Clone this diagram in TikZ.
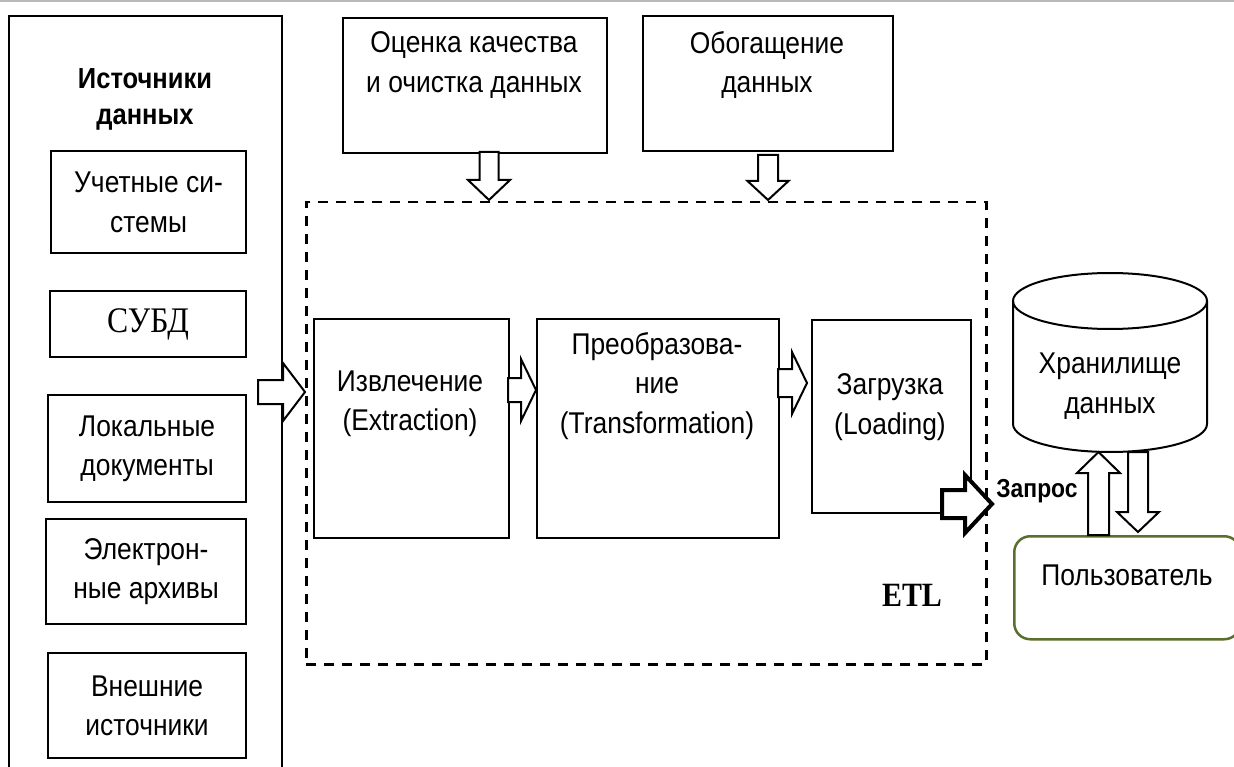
\documentclass[tikz,border=0pt]{standalone}
\usepackage{fontspec}
\setmainfont{Liberation Sans}[FakeStretch=0.88]
\newfontfamily\tnr{Liberation Serif}[FakeStretch=0.88]
\usetikzlibrary{calc}
\definecolor{usrgreen}{HTML}{5A6E2E}
% block arrow: [options]{start}{tip}{half body}{half head}{head length}
\newcommand\blkarrow[6][]{%
  \coordinate (bA) at #2; \coordinate (bB) at #3;
  \coordinate (bC) at ($(bB)!#6!(bA)$);
  \draw[blk,#1] ($(bA)!#4!90:(bB)$) -- ($(bC)!#4!-90:(bA)$) -- ($(bC)!#5!-90:(bA)$)
     -- (bB) -- ($(bC)!#5!90:(bA)$) -- ($(bC)!#4!90:(bA)$) -- ($(bA)!#4!-90:(bB)$) -- cycle;}
\begin{document}
\begin{tikzpicture}[x=1pt,y=1pt,
  box/.style={draw, line width=2.2pt, inner sep=0pt, anchor=north west},
  txt/.style={align=center, font=\fontsize{30pt}{39.5pt}\selectfont, inner sep=0pt},
  blk/.style={draw, line width=2pt, fill=white, line join=miter}]
\useasboundingbox (0,0) rectangle (1234,-767);
\clip (0,0) rectangle (1234,-767);
\draw[gray!55, line width=1.5pt] (0,-1) -- (1234,-1);

% sources column
\node[box, minimum width=273pt, minimum height=790pt] (src) at (8,-15) {};
\node[txt, font=\bfseries\fontsize{29pt}{36pt}\selectfont] (src-t) at (145,-99) {Источники\\данных};
\node[box, minimum width=195pt, minimum height=102pt] (s1) at (50,-150) {};
\node[txt] at (s1.center) {Учетные си-\\стемы};
\node[box, minimum width=196pt, minimum height=66pt] (s2) at (49,-290) {};
\node[txt, font=\tnr\fontsize{36pt}{40pt}\selectfont] at (s2.center) {СУБД};
\node[box, minimum width=198pt, minimum height=107pt] (s3) at (47,-394) {};
\node[txt] at (s3.center) {Локальные\\документы};
\node[box, minimum width=200pt, minimum height=105pt] (s4) at (45,-518) {};
\node[txt] at (s4.center) {Электрон-\\ные архивы};
\node[box, minimum width=198pt, minimum height=105pt] (s5) at (47,-652) {};
\node[txt] at (s5.center) {Внешние\\источники};

% top boxes
\node[box, minimum width=264pt, minimum height=135pt] (q) at (342,-17) {};
\node[txt] (q-t) at (474,-65) {Оценка качества\\и очистка данных};
\node[box, minimum width=250pt, minimum height=135pt] (en) at (642,-15) {};
\node[txt] (en-t) at (767,-65) {Обогащение\\данных};

% ETL area
\node[draw, dashed, dash pattern=on 10pt off 8pt, line width=2.5pt, inner sep=0pt,
      minimum width=680pt, minimum height=462pt, anchor=north west] (etl) at (305,-201) {};
\node[font=\tnr\bfseries\fontsize{34pt}{40pt}\selectfont, inner sep=0pt] (etl-t) at (912,-595) {ETL};

\node[box, minimum width=195pt, minimum height=219pt] (ext) at (313,-318) {};
\node[txt] (ext-t) at (410,-404) {Извлечение\\(Extraction)};
\node[box, minimum width=242pt, minimum height=219pt] (tr) at (536,-318) {};
\node[txt] (tr-t) at (657,-386) {Преобразова-\\ние\\(Transformation)};
\node[box, minimum width=159pt, minimum height=193pt] (ld) at (811,-319) {};
\node[txt] (ld-t) at (890,-407) {Загрузка\\(Loading)};

% storage cylinder
\coordinate (dwc) at (1110,-301);
\draw[line width=2pt, fill=white] (1013,-301) -- (1013,-424) arc[start angle=180, end angle=360, x radius=97pt, y radius=28pt] -- (1207,-301);
\draw[line width=2pt] (dwc) ellipse[x radius=97pt, y radius=28pt];
\node[txt] (dw) at (1110,-386) {Хранилище\\данных};

% user
\node[draw=usrgreen, line width=2.5pt, rounded corners=16pt, inner sep=0pt,
      minimum width=226pt, minimum height=103pt, anchor=north west] (usr) at (1013,-535) {};
\node[txt] (usr-t) at (1127,-575) {Пользователь};

% block arrows
\coordinate (a1s) at (258,-392);
\blkarrow{(a1s)}{(etl.west |- a1s)}{12pt}{29pt}{22pt}
\blkarrow{(489,-152)}{(489,-200)}{9.5pt}{21pt}{20pt}
\blkarrow{(768,-155)}{(768,-200)}{10pt}{20.5pt}{19pt}
\coordinate (a4) at (508,-390);
\blkarrow{(a4)}{(tr.west |- a4)}{12pt}{31pt}{15pt}
\coordinate (a5) at (778,-383);
\blkarrow{(a5)}{(807,-383)}{14pt}{31pt}{15pt}
\blkarrow[line width=4pt]{(942,-504)}{(992,-504)}{14pt}{29pt}{27pt}
\node[font=\bfseries\fontsize{26pt}{30pt}\selectfont, inner sep=0pt] (zap) at (1037,-491) {Запрос};
\blkarrow{(1098.5,-535)}{(1098.5,-452)}{10.5pt}{21.5pt}{21pt}
\blkarrow{(1138,-452)}{(1138,-532)}{10pt}{21pt}{20pt}
\end{tikzpicture}
\end{document}
